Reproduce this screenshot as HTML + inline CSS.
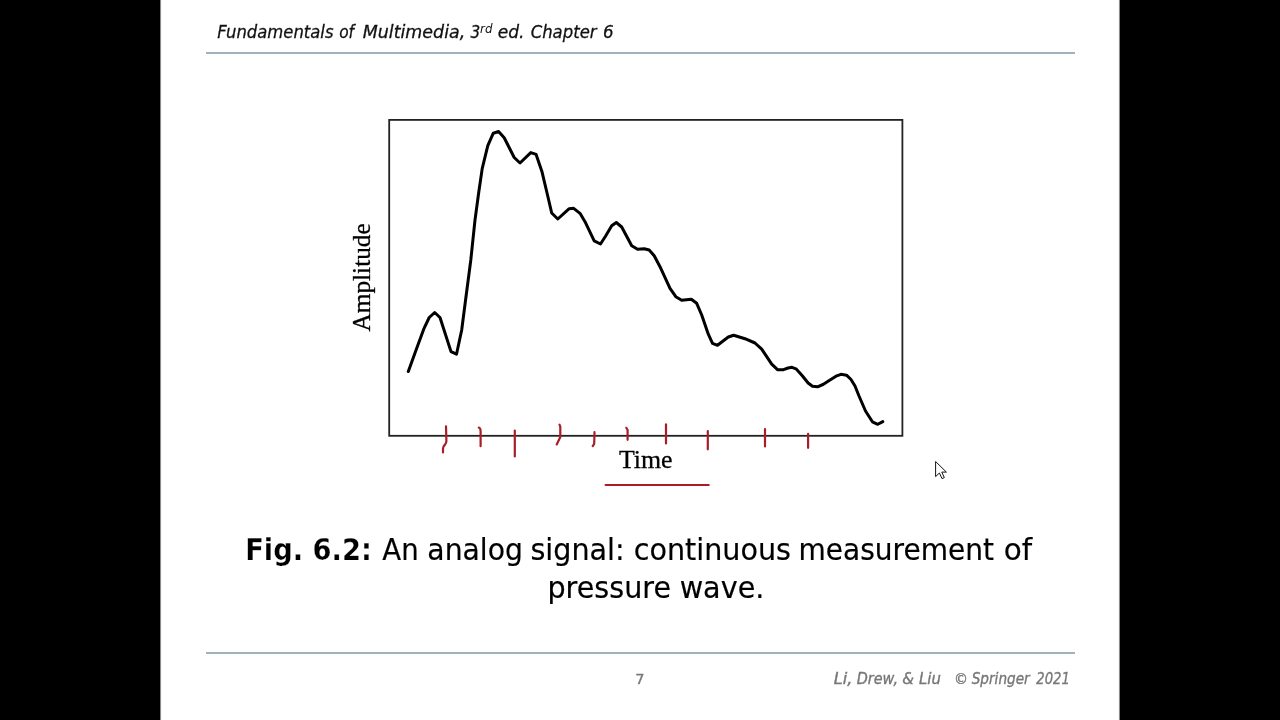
<!DOCTYPE html>
<html>
<head>
<meta charset="utf-8">
<title>Fig. 6.2 An analog signal</title>
<style>
html,body{margin:0;padding:0;background:#000;}
body{width:1280px;height:720px;overflow:hidden;position:relative;}
#slide{position:absolute;left:160px;top:0;width:960px;height:720px;background:#fff;}
svg{position:absolute;left:0;top:0;will-change:transform;}
.t{font-family:"DejaVu Sans","Liberation Sans",sans-serif;}
.s{font-family:"Liberation Serif","DejaVu Serif",serif;}
</style>
</head>
<body>
<div id="slide"></div>
<svg width="1280" height="720" viewBox="0 0 1280 720">
  <!-- slide edge softening -->
  <rect x="160" y="0" width="1" height="720" fill="#8c8c8c"/>
  <rect x="161" y="0" width="1" height="720" fill="#f6f6f6"/>
  <rect x="1118" y="0" width="1" height="720" fill="#f6f6f6"/>
  <rect x="1119" y="0" width="1" height="720" fill="#8c8c8c"/>
  <!-- header / footer rules -->
  <rect x="206" y="52" width="869" height="2" fill="#a2b2ba"/>
  <rect x="206" y="652" width="869" height="2" fill="#a2b2ba"/>

  <!-- figure box -->
  <rect x="389.2" y="119.9" width="513.2" height="315.9" fill="none" stroke="#222" stroke-width="1.8"/>

  <!-- signal curve -->
  <polyline fill="none" stroke="#000" stroke-width="3" stroke-linejoin="round" stroke-linecap="round" points="408.3,371.5 415.8,350.8 423.7,329.2 429.2,317.5 434.7,312.5 440,317.5 451,351.6 456.5,354.2 461.7,330 465.8,298.3 470.8,260 475,220 478.75,192.2 482.2,168.6 487.8,145.7 493.3,133.2 498.6,131.5 504.2,137.8 514.2,157.5 520,163 530.8,152.6 536.1,154.4 541.9,171.4 547.5,195 551.7,213 557.8,219 569.2,208.7 573.7,208.3 580,213.3 585,221.7 594.2,240.8 600.5,244 605.8,235.8 611.7,225.8 616.3,222.5 621.7,227 631.7,245.8 637.5,249.2 644.2,248.7 649.2,250 654.2,255.8 660,266.7 670,288.3 675.8,296.7 681.7,300.3 691.3,299.2 696.7,303.3 701.7,315 708.3,334.2 712.5,343.3 717.5,345.3 728.3,337 733.7,335.3 745,338.7 755,343 761.7,349.2 771.7,364.2 777.5,369.7 783.5,369.7 788,368 792,367.3 796,368.8 802.3,375.7 808.1,383 812.5,386.3 817.5,386.8 823,384.5 830,380 836,376.2 841,374.3 846.5,375.2 851,379.5 855,386 858.8,395.5 865.5,411 872.4,421.8 877.8,424.3 882.8,421.6"/>

  <!-- axis labels -->
  <text class="s" font-size="25.5" fill="#000" stroke="#000" stroke-width="0.3" transform="translate(369.8,331.4) rotate(-90)" textLength="108" lengthAdjust="spacingAndGlyphs">Amplitude</text>
  <text class="s" x="618.9" y="467.5" font-size="26" fill="#000" stroke="#000" stroke-width="0.3" textLength="53.6" lengthAdjust="spacingAndGlyphs">Time</text>

  <!-- red tick marks -->
  <g fill="none" stroke="#a81e28" stroke-width="2.2" stroke-linecap="round" stroke-linejoin="round">
    <path d="M446,426.3 L446.4,441 Q446.4,443 445,444.5 L443.6,446.5 Q443,447.5 443,449 L443,452.5"/>
    <path d="M478.8,427.6 Q480.6,428.4 480.6,430.5 L480.6,446.2"/>
    <path d="M514.8,430.6 L514.8,456.4"/>
    <path d="M559.5,424.7 L560.3,426.7 L560.3,436.9 L556.7,444.4"/>
    <path d="M594.5,432.2 L594.2,443.9 L592.7,446.2"/>
    <path d="M626.3,427.8 L627.6,430 L627.6,439.8"/>
    <path d="M666,424.4 L666,443.5"/>
    <path d="M707.8,431 L707.8,449.3"/>
    <path d="M765,429 L765,446.5"/>
    <path d="M808.1,433.8 L808.1,447.8"/>
    <path d="M605.6,485 L708.7,485"/>
  </g>

  <!-- text -->
  <text class="t" x="245.17" y="560.3" font-size="30" font-weight="bold" fill="#000" textLength="126.67" lengthAdjust="spacingAndGlyphs" stroke="#fff" stroke-width="0.25">Fig. 6.2:</text>
  <text class="t" x="382.30" y="560.3" font-size="30" fill="#000" textLength="36.34" lengthAdjust="spacingAndGlyphs" stroke="#000" stroke-width="0.2">An</text>
  <text class="t" x="427.32" y="560.3" font-size="30" fill="#000" textLength="95.65" lengthAdjust="spacingAndGlyphs" stroke="#000" stroke-width="0.2">analog</text>
  <text class="t" x="530.39" y="560.3" font-size="30" fill="#000" textLength="94.29" lengthAdjust="spacingAndGlyphs" stroke="#000" stroke-width="0.2">signal:</text>
  <text class="t" x="633.69" y="560.3" font-size="30" fill="#000" textLength="157.31" lengthAdjust="spacingAndGlyphs" stroke="#000" stroke-width="0.2">continuous</text>
  <text class="t" x="798.45" y="560.3" font-size="30" fill="#000" textLength="195.58" lengthAdjust="spacingAndGlyphs" stroke="#000" stroke-width="0.2">measurement</text>
  <text class="t" x="1003.64" y="560.3" font-size="30" fill="#000" textLength="28.41" lengthAdjust="spacingAndGlyphs" stroke="#000" stroke-width="0.2">of</text>
  <text class="t" x="547.44" y="598.3" font-size="30" fill="#000" textLength="123.58" lengthAdjust="spacingAndGlyphs" stroke="#000" stroke-width="0.2">pressure</text>
  <text class="t" x="679.64" y="598.3" font-size="30" fill="#000" textLength="84.81" lengthAdjust="spacingAndGlyphs" stroke="#000" stroke-width="0.2">wave.</text>
  <text class="t" x="217.25" y="37.8" font-size="18" font-style="italic" fill="#111" textLength="116.21" lengthAdjust="spacingAndGlyphs" stroke="#111" stroke-width="0.3">Fundamentals</text>
  <text class="t" x="339.14" y="37.8" font-size="18" font-style="italic" fill="#111" textLength="14.85" lengthAdjust="spacingAndGlyphs" stroke="#111" stroke-width="0.3">of</text>
  <text class="t" x="362.75" y="37.8" font-size="18" font-style="italic" fill="#111" textLength="102.46" lengthAdjust="spacingAndGlyphs" stroke="#111" stroke-width="0.3">Multimedia,</text>
  <text class="t" x="470.43" y="37.8" font-size="18" font-style="italic" fill="#111" textLength="9.74" lengthAdjust="spacingAndGlyphs" stroke="#111" stroke-width="0.3">3</text>
  <text class="t" x="497.65" y="37.8" font-size="18" font-style="italic" fill="#111" textLength="26.77" lengthAdjust="spacingAndGlyphs" stroke="#111" stroke-width="0.3">ed.</text>
  <text class="t" x="530.68" y="37.8" font-size="18" font-style="italic" fill="#111" textLength="65.87" lengthAdjust="spacingAndGlyphs" stroke="#111" stroke-width="0.3">Chapter</text>
  <text class="t" x="603.02" y="37.8" font-size="18" font-style="italic" fill="#111" textLength="10.65" lengthAdjust="spacingAndGlyphs" stroke="#111" stroke-width="0.3">6</text>
  <text class="t" x="635.30" y="683.9" font-size="14.5" fill="#777" textLength="9.23" lengthAdjust="spacingAndGlyphs" stroke="#777" stroke-width="0.35">7</text>
  <text class="t" x="833.85" y="684.0" font-size="15" font-style="italic" fill="#777" textLength="18.68" lengthAdjust="spacingAndGlyphs" stroke="#777" stroke-width="0.35">Li,</text>
  <text class="t" x="856.70" y="684.0" font-size="15" font-style="italic" fill="#777" textLength="41.35" lengthAdjust="spacingAndGlyphs" stroke="#777" stroke-width="0.35">Drew,</text>
  <text class="t" x="902.15" y="684.0" font-size="15" font-style="italic" fill="#777" textLength="11.70" lengthAdjust="spacingAndGlyphs" stroke="#777" stroke-width="0.35">&amp;</text>
  <text class="t" x="919.10" y="684.0" font-size="15" font-style="italic" fill="#777" textLength="21.82" lengthAdjust="spacingAndGlyphs" stroke="#777" stroke-width="0.35">Liu</text>
  <text class="t" x="971.70" y="684.0" font-size="15" font-style="italic" fill="#777" textLength="58.02" lengthAdjust="spacingAndGlyphs" stroke="#777" stroke-width="0.35">Springer</text>
  <text class="t" x="1036.30" y="684.0" font-size="15" font-style="italic" fill="#777" textLength="33.63" lengthAdjust="spacingAndGlyphs" stroke="#777" stroke-width="0.35">2021</text>
  <text class="t" x="480.12" y="32.8" font-size="12.5" font-style="italic" fill="#111" textLength="12.42" lengthAdjust="spacingAndGlyphs">rd</text>
  <text class="t" x="954.10" y="684.0" font-size="14" fill="#777" textLength="14.00" lengthAdjust="spacingAndGlyphs" stroke="#777" stroke-width="0.35">©</text>


  <!-- mouse cursor -->
  <path d="M935.6,461.5 L935.6,476.6 L939.4,473 L942,478.6 L944.3,477.6 L941.8,472.1 L946.4,472.1 Z" fill="#fff" stroke="#111" stroke-width="1" stroke-linejoin="miter"/>
</svg>
</body>
</html>
